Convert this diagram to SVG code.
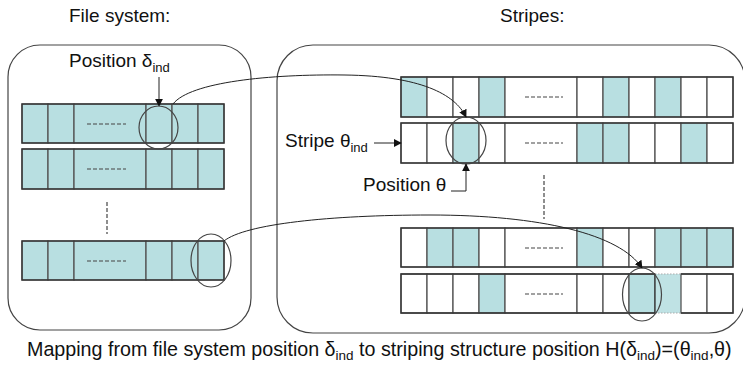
<svg xmlns="http://www.w3.org/2000/svg" width="743" height="366" viewBox="0 0 743 366">
  <defs>
    <marker id="ah" viewBox="0 0 10 10" refX="9" refY="5" markerWidth="8" markerHeight="8" markerUnits="userSpaceOnUse" orient="auto">
      <path d="M0,0 L10,5 L0,10 z" fill="#111"/>
    </marker>
    <style>
      text { font-family: "Liberation Sans", Arial, sans-serif; font-size: 19px; fill: #111; }
      .sub { font-size: 13px; }
      .caption { font-size: 19.7px; }
      .caption .sub { font-size: 13.5px; }
      .panel { fill: none; stroke: #444; stroke-width: 1.2; }
      .cell { fill: #fff; stroke: #555; stroke-width: 1.3; }
      .on { fill: #b8dfe1; }
      .row { fill: none; stroke: #333; stroke-width: 1.3; }
      .dash { stroke: #444; stroke-width: 1.2; stroke-dasharray: 4 2; fill: none; }
      .ell { fill: none; stroke: #444; stroke-width: 1.2; }
      .link { fill: none; stroke: #222; stroke-width: 1; }
    </style>
  </defs>
  <rect width="743" height="366" fill="#fff"/>

  <!-- headings -->
  <text x="69" y="22">File system:</text>
  <text x="500" y="22">Stripes:</text>

  <!-- file system panel -->
  <g id="fs-panel">
    <rect class="panel" x="8" y="45" width="243" height="285" rx="32" ry="32"/>
    <g id="fs-row1">
      <rect class="cell on" x="22" y="104" width="26" height="39"/>
      <rect class="cell on" x="48" y="104" width="26" height="39"/>
      <rect class="cell on" x="74" y="104" width="72" height="39"/>
      <rect class="cell on" x="146" y="104" width="26" height="39"/>
      <rect class="cell on" x="172" y="104" width="26" height="39"/>
      <rect class="cell on" x="198" y="104" width="26" height="39"/>
      <rect class="row" x="22" y="104" width="202" height="39"/>
      <line class="dash" x1="87" y1="124" x2="126" y2="124"/>
    </g>
    <g id="fs-row2">
      <rect class="cell on" x="22" y="149" width="26" height="40"/>
      <rect class="cell on" x="48" y="149" width="26" height="40"/>
      <rect class="cell on" x="74" y="149" width="72" height="40"/>
      <rect class="cell on" x="146" y="149" width="26" height="40"/>
      <rect class="cell on" x="172" y="149" width="26" height="40"/>
      <rect class="cell on" x="198" y="149" width="26" height="40"/>
      <rect class="row" x="22" y="149" width="202" height="40"/>
      <line class="dash" x1="87" y1="169" x2="126" y2="169"/>
    </g>
    <line class="dash" x1="107" y1="202" x2="107" y2="234"/>
    <g id="fs-row3">
      <rect class="cell on" x="22" y="241" width="26" height="39"/>
      <rect class="cell on" x="48" y="241" width="26" height="39"/>
      <rect class="cell on" x="74" y="241" width="72" height="39"/>
      <rect class="cell on" x="146" y="241" width="26" height="39"/>
      <rect class="cell on" x="172" y="241" width="26" height="39"/>
      <rect class="cell on" x="198" y="241" width="26" height="39"/>
      <rect class="row" x="22" y="241" width="202" height="39"/>
      <line class="dash" x1="87" y1="261" x2="126" y2="261"/>
    </g>
    <g id="fs-pos">
      <text x="69" y="67">Position δ<tspan class="sub" dy="5">ind</tspan></text>
      <line class="link" x1="159" y1="77" x2="159" y2="106" marker-end="url(#ah)"/>
      <ellipse class="ell" cx="158.5" cy="127.5" rx="19.5" ry="21.5"/>
    </g>
    <ellipse id="fs-last" class="ell" cx="211" cy="260.5" rx="20" ry="26.5"/>
  </g>

  <!-- stripes panel -->
  <g id="stripe-panel">
    <rect class="panel" x="277" y="45" width="468" height="288" rx="36" ry="36"/>
    <g id="stripe-a">
      <rect class="cell on" x="401" y="77" width="26" height="40"/>
      <rect class="cell" x="427" y="77" width="26" height="40"/>
      <rect class="cell" x="453" y="77" width="26" height="40"/>
      <rect class="cell on" x="479" y="77" width="26" height="40"/>
      <rect class="cell" x="505" y="77" width="72" height="40"/>
      <rect class="cell" x="577" y="77" width="26" height="40"/>
      <rect class="cell on" x="603" y="77" width="26" height="40"/>
      <rect class="cell" x="629" y="77" width="26" height="40"/>
      <rect class="cell on" x="655" y="77" width="26" height="40"/>
      <rect class="cell" x="681" y="77" width="26" height="40"/>
      <rect class="cell" x="707" y="77" width="26" height="40"/>
      <rect class="row" x="401" y="77" width="332" height="40"/>
      <line class="dash" x1="525" y1="97" x2="563" y2="97"/>
    </g>
    <g id="stripe-b">
      <rect class="cell" x="401" y="123" width="26" height="40"/>
      <rect class="cell" x="427" y="123" width="26" height="40"/>
      <rect class="cell on" x="453" y="123" width="26" height="40"/>
      <rect class="cell" x="479" y="123" width="26" height="40"/>
      <rect class="cell" x="505" y="123" width="72" height="40"/>
      <rect class="cell on" x="577" y="123" width="26" height="40"/>
      <rect class="cell on" x="603" y="123" width="26" height="40"/>
      <rect class="cell" x="629" y="123" width="26" height="40"/>
      <rect class="cell" x="655" y="123" width="26" height="40"/>
      <rect class="cell on" x="681" y="123" width="26" height="40"/>
      <rect class="cell" x="707" y="123" width="26" height="40"/>
      <rect class="row" x="401" y="123" width="332" height="40"/>
      <line class="dash" x1="525" y1="143" x2="563" y2="143"/>
    </g>
    <line class="dash" x1="544" y1="175" x2="544" y2="219"/>
    <g id="stripe-c">
      <rect class="cell" x="401" y="228" width="26" height="39"/>
      <rect class="cell on" x="427" y="228" width="26" height="39"/>
      <rect class="cell on" x="453" y="228" width="26" height="39"/>
      <rect class="cell" x="479" y="228" width="26" height="39"/>
      <rect class="cell" x="505" y="228" width="72" height="39"/>
      <rect class="cell on" x="577" y="228" width="26" height="39"/>
      <rect class="cell" x="603" y="228" width="26" height="39"/>
      <rect class="cell" x="629" y="228" width="26" height="39"/>
      <rect class="cell on" x="655" y="228" width="26" height="39"/>
      <rect class="cell on" x="681" y="228" width="26" height="39"/>
      <rect class="cell on" x="707" y="228" width="26" height="39"/>
      <rect class="row" x="401" y="228" width="332" height="39"/>
      <line class="dash" x1="525" y1="248" x2="563" y2="248"/>
    </g>
    <g id="stripe-d">
      <rect class="cell" x="401" y="274" width="26" height="39"/>
      <rect class="cell" x="427" y="274" width="26" height="39"/>
      <rect class="cell" x="453" y="274" width="26" height="39"/>
      <rect class="cell on" x="479" y="274" width="26" height="39"/>
      <rect class="cell" x="505" y="274" width="72" height="39"/>
      <rect class="cell" x="577" y="274" width="26" height="39"/>
      <rect class="cell" x="603" y="274" width="26" height="39"/>
      <rect class="cell on" x="629" y="274" width="26" height="39"/>
      <rect x="655" y="274" width="26" height="39" fill="#bfe2e4"/>
      <rect class="cell" x="681" y="274" width="26" height="39"/>
      <rect class="cell" x="707" y="274" width="26" height="39"/>
      <path class="row" d="M655,274 H401 V313 H655 M681,274 H733 V313 H681"/>
      <path d="M655,274 H681 M655,313 H681" fill="none" stroke="#aaa" stroke-width="1" stroke-dasharray="1.5 1.5"/>
      <line x1="655" y1="274" x2="655" y2="313" stroke="#333" stroke-width="1.3"/>
      <line class="dash" x1="525" y1="294" x2="563" y2="294"/>
    </g>
    <g id="stripe-label">
      <text x="285" y="147">Stripe θ<tspan class="sub" dy="5">ind</tspan></text>
      <line class="link" x1="374" y1="143" x2="401" y2="143" marker-end="url(#ah)"/>
    </g>
    <g id="theta-pos">
      <ellipse class="ell" cx="466" cy="140.5" rx="20" ry="23.5"/>
      <text x="363" y="191">Position θ</text>
      <path class="link" d="M451,191 H466 V164" marker-end="url(#ah)"/>
    </g>
    <ellipse id="theta-target" class="ell" cx="642" cy="294.5" rx="19.5" ry="26.5"/>
  </g>

  <!-- mapping connectors -->
  <g id="connectors">
    <path class="link" d="M173,104 C190,82 270,74 345,75 C420,76 455,94 466,117" marker-end="url(#ah)"/>
    <path class="link" d="M224,241 C245,224 330,215 430,215 C540,215 620,234 642,268" marker-end="url(#ah)"/>
  </g>

  <!-- caption -->
  <text class="caption" x="27" y="356">Mapping from file system position δ<tspan class="sub" dy="4">ind</tspan><tspan dy="-4"> to striping structure position H(δ</tspan><tspan class="sub" dy="4">ind</tspan><tspan dy="-4">)=(θ</tspan><tspan class="sub" dy="4">ind</tspan><tspan dy="-4">,θ)</tspan></text>
</svg>
